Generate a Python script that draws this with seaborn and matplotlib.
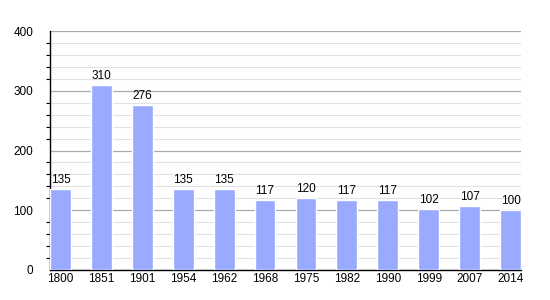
import matplotlib
matplotlib.use("Agg")
import matplotlib.pyplot as plt
import seaborn as sns
import pandas as pd
from matplotlib.ticker import MultipleLocator

years = ["1800", "1851", "1901", "1954", "1962", "1968", "1975", "1982", "1990", "1999", "2007", "2014"]
population = [135, 310, 276, 135, 135, 117, 120, 117, 117, 102, 107, 100]

df = pd.DataFrame({"year": years, "pop": population})

sns.set_theme(style="white")
plt.rcParams['font.family'] = ['Liberation Sans', 'DejaVu Sans']

fig = plt.figure(figsize=(5.5, 3), dpi=100)
ax = fig.add_axes([50/550, 30/300, 471/550, 239/300])

sns.barplot(data=df, x="year", y="pop", color="#99aaff", saturation=1, width=0.51, ax=ax, zorder=3)

ax.set_xlim(-0.255, len(years) - 1 + 0.255)
ax.set_ylim(0, 400)
ax.yaxis.set_major_locator(MultipleLocator(100))
ax.yaxis.set_minor_locator(MultipleLocator(20))
ax.grid(which="major", axis="y", color="#aaaaaa", linewidth=0.9, zorder=0)
ax.grid(which="minor", axis="y", color="#e2e2e2", linewidth=0.8, zorder=0)
ax.set_axisbelow(True)

for s in ["top", "right"]:
    ax.spines[s].set_visible(False)
for s in ["left", "bottom"]:
    ax.spines[s].set_color("black")
    ax.spines[s].set_linewidth(1.0)

ax.tick_params(axis="y", which="major", direction="out", length=4, width=0.8, color="black",
               labelsize=8.5, labelcolor="black", pad=8)
ax.tick_params(axis="y", which="minor", direction="out", length=3, width=0.8, color="black", left=True)
ax.tick_params(axis="x", which="both", length=0, labelsize=8.5, labelcolor="black", pad=2)
ax.set_xlabel("")
ax.set_ylabel("")

for i, v in enumerate(population):
    ax.text(i, v + 5, str(v), ha="center", va="bottom", fontsize=8.5, color="black")

fig.savefig("out.png", dpi=100)
